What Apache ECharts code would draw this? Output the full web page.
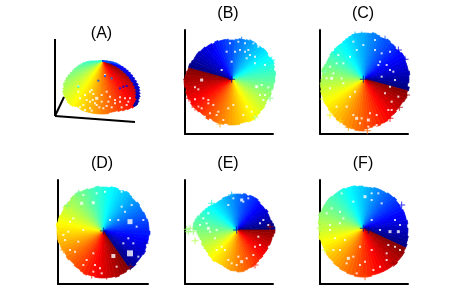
<!DOCTYPE html>
<html><head><meta charset="utf-8">
<style>html,body{margin:0;padding:0;background:#fff}#c{width:450px;height:300px}</style>
<script src="https://cdn.jsdelivr.net/npm/echarts@6/dist/echarts.min.js"></script></head>
<body><div id="c"></div>
<script>
// Outline radius of every sector, clockwise from north (A: 2.5 degrees, others: 5 degrees)
const radiiA=[0,0,0,0,0,0,0,0,0,0,0,0,0,0,0,0,0,0,0,0,0,0,0,0,0,0,0,0,0,0,0,0,0,0,0,0,
 6,9,12,15,17,19,22,25,28,31,34,37,40,43,46,48,50,52,53,55,56,56,56,55,55,54,54,53,53,52,52,52,52,53,53,53,
 53,53,53,53,53,53,53,53,53,53,52,52,53,54,54,54,53,52,52,51,50,48,46,45,42,40,37,34,31,29,26,24,21,19,16,13,
 0,0,0,0,0,0,0,0,0,0,0,0,0,0,0,0,0,0,0,0,0,0,0,0,0,0,0,0,0,0,0,0,0,0,0,0];
const rimA=[0,0,0,0,0,0,0,0,0,0,0,0,0,0,0,0,0,0,0,0,0,0,0,0,0,0,0,0,0,0,0,0,0,0,0,0,
 6,9,12,15,15,14,13,13,12,11,10,9,8,8,7,6,5,5,4,3,3,2,0,0,0,0,0,0,0,0,0,0,0,0,0,0,
 0,0,0,0,0,0,0,0,0,0,0,0,0,0,0,0,0,0,0,0,0,0,0,0,0,0,0,0,0,0,0,0,0,0,0,0,0,0,0,0,
 0,0,0,0,0,0,0,0,0,0,0,0,0,0,0,0,0,0,0,0,0,0,0,0,0,0,0,0,0,0,0,0,0,0];
const radiiB=[39,40,41,41,42,43,43,42,43,44,44,43,44,45,44,43,44,43,
 43,42,42,41,42,41,41,42,43,43,44,45,46,46,45,45,46,46,
 46,45,46,46,46,45,47,46,46,47,47,48,47,48,48,47,48,48,
 47,46,45,45,44,43,43,43,42,42,41,41,40,41,40,40,40,39];
const radiiC=[46,46,47,46,45,45,46,45,45,44,45,46,46,45,45,45,46,45,
 45,44,46,45,46,46,45,45,45,46,46,47,48,48,49,48,49,50,
 52,52,51,51,50,49,49,48,47,47,46,46,45,45,45,44,44,43,
 42,42,43,42,41,41,41,42,41,42,42,42,43,44,45,46,46,46];
const radiiD=[44,44,45,45,44,45,46,45,44,44,45,44,44,45,45,46,46,46,
 47,46,46,45,46,47,46,46,46,47,47,46,47,47,48,47,47,47,
 47,47,46,46,47,46,45,45,44,44,45,44,44,45,45,46,46,46,
 46,47,46,46,45,45,46,45,45,46,46,46,45,45,44,44,45,44];
const radiiE=[36,36,37,36,37,37,37,36,35,35,35,36,35,35,35,36,37,38,
 38,37,36,36,36,35,36,36,36,37,37,38,39,40,40,41,42,42,
 41,41,40,39,38,38,38,39,38,38,37,37,37,38,37,38,39,40,
 44,44,43,42,40,39,38,37,36,35,34,34,34,35,35,35,36,36];
const radiiF=[41,41,41,42,42,42,42,43,43,44,43,43,43,44,44,44,45,44,
 45,45,46,46,47,47,48,48,48,49,48,48,48,48,48,48,49,49,
 49,49,48,48,47,47,46,46,45,45,45,44,44,44,44,45,44,44,
 44,45,45,46,45,45,45,45,45,44,44,44,44,43,43,43,42,42];
// White gaps between the scattered points: x, y, optional size
const gapsA=[[195,165],[115,198],[155,210],[150,215],[200,215],[185,225],[210,230],[170,235,3],[150,245],[165,250],[185,245],[225,240],[255,235],[265,245],[150,265],[170,255],[190,265],[225,250],[260,255],[120,235],[135,270],[130,255],[115,215],[140,240],[158,240],[178,262],[205,245],[215,262],[240,245],[245,262],[270,235],[135,225],[160,222],[120,262],[200,258],[155,272],[240,232]];
const gapsB=[[80,240,3],[60,262],[70,268],[85,295],[100,300],[115,315],[70,320],[105,340],[130,335],[160,325],[175,315],[215,320],[240,350],[245,260,3],[255,285],[280,262],[265,300],[210,155],[215,175],[240,190],[190,125],[165,130],[170,185],[140,210],[250,140],[235,130],[100,310],[90,350],[125,345],[210,130],[180,155],[225,165],[195,150],[260,255],[270,285],[230,335],[145,360],[205,345],[60,298],[80,325],[270,195],[240,170],[220,150],[155,155]];
const gapsC=[[65,235,3],[50,235],[70,220],[95,235],[60,265],[80,190],[100,190],[120,170],[140,150],[160,135],[195,120],[205,195],[210,185],[240,210],[250,215],[215,230],[140,355,3],[155,355],[180,340],[175,360,3],[200,345],[235,330],[245,330],[225,280],[245,305],[110,320],[100,250],[135,275],[120,290],[80,320],[175,380],[60,200],[45,215],[85,165],[130,125],[230,195],[255,240],[215,160],[240,155],[195,150],[150,370],[130,345],[200,375],[240,260],[265,290]];
const gapsD=[[95,160,3],[130,158,3],[140,130],[215,125],[215,170],[240,215,5],[225,185],[240,310,6],[250,280],[265,320],[60,300],[75,305],[130,310],[110,330],[190,318,4],[135,345],[155,370],[200,350],[70,205],[55,245],[100,240],[45,270],[85,275],[180,210],[260,230],[205,210],[100,135],[165,125],[245,165],[280,210],[235,265],[60,215],[40,255],[150,355],[130,365],[220,280],[100,345]];
const gapsE=[[160,165],[200,150,3],[100,190],[85,205],[100,235,3],[105,245],[75,225],[125,240],[265,210],[255,220],[150,300],[125,300],[190,320],[215,325],[200,335,3],[240,350],[160,330],[240,290],[250,260],[175,145],[205,155],[170,340],[95,220],[120,265],[220,145],[280,225],[140,290],[185,345],[255,285],[235,315]];
const gapsF=[[165,140,3],[185,130],[185,150],[215,160],[95,130],[65,175],[60,225],[90,185],[90,220],[100,205],[60,240],[240,245,3],[265,245,3],[210,240],[185,210],[235,285],[230,310],[185,300],[150,290],[130,320],[115,325,3],[90,300],[150,345],[110,340],[230,330],[270,300],[70,300],[190,360],[130,155],[50,190],[75,265],[105,270],[255,210],[270,225],[205,130],[140,370],[165,335],[210,350],[255,290]];
// Isolated plus markers: x, y, colour value
const plusB=[[170,238,.02],[35,238,.98],[28,258,.95],[42,295,.88],[240,352,.55],[290,180,.38],[225,128,.28],[110,145,.08],[200,120,.25],[295,215,.42],[60,322,.85],[135,372,.72],[285,295,.5]];
const plusC=[[28,252,.52],[40,297,.6],[90,362,.66],[155,105,.3],[135,105,.31],[190,108,.25],[225,118,.2],[265,150,.1],[285,178,.08],[295,262,.02],[290,285,.98],[268,322,.95],[240,355,.9],[160,238,.02],[172,392,.78],[115,382,.72],[75,155,.38],[45,215,.47],[60,345,.63]];
const plusD=[[52,167,.5],[22,245,.62],[160,243,.02],[240,350,.98],[125,375,.85],[85,130,.47],[285,280,.07],[170,378,.92],[40,300,.72]];
const plusE=[[25,240,.52],[35,238,.52],[45,235,.52],[40,245,.52],[60,272,.55],[75,252,.52],[95,295,.58],[55,245,.52],[185,240,.02],[295,232,1],[285,230,.98],[110,160,.42],[170,135,.3],[240,345,.85]];
const plusF=[[28,208,.5],[30,235,.55],[160,235,.02],[175,240,.02],[295,272,.03],[250,340,.97],[165,380,.8],[100,125,.42],[45,300,.6],[275,165,.12]];
// Single blue dots inside the dome of panel A: x, y, colour value
const dotsA=[[175,182,.2],[215,175,.25],[240,205,.15],[260,198,.12],[115,200,.4],[195,168,.2],[250,200,.1]];
const titles=['(A)','(B)','(C)','(D)','(E)','(F)'];
const jet=['#00007f','#0000ff','#007fff','#00ffff','#7fff7f','#ffff00','#ff7f00','#ff0000','#7f0000'];

const panels=[
 {r:radiiA,step:2.5,g:gapsA,p:dotsA,dot:true,cx:102,cy:61,ox:40,oy:20,l:40,t:20,w:110,h:110,cut:388,span:278,dir:-1,clamp:true,axes:false,tx:101.5,ty:34},
 {r:radiiB,step:5,g:gapsB,p:plusB,cx:232,cy:79,ox:175,oy:0,l:185,t:30,w:88,h:104,cut:285,span:360,dir:1,axes:true,tx:228,ty:14},
 {r:radiiC,step:5,g:gapsC,p:plusC,cx:364,cy:79,ox:310,oy:0,l:320,t:30,w:88,h:104,cut:104,span:360,dir:-1,axes:true,tx:363,ty:14},
 {r:radiiD,step:5,g:gapsD,p:plusD,cx:103,cy:231,ox:50,oy:150,l:58,t:180,w:90,h:104,cut:146,span:360,dir:-1,axes:true,tx:102,ty:164},
 {r:radiiE,step:5,g:gapsE,p:plusE,cx:237,cy:230,ox:175,oy:150,l:185,t:180,w:88,h:104,cut:88,span:360,dir:-1,axes:true,tx:228,ty:164},
 {r:radiiF,step:5,g:gapsF,p:plusF,cx:363,cy:228,ox:310,oy:150,l:320,t:180,w:88,h:104,cut:115,span:360,dir:-1,axes:true,tx:363,ty:164}
];
const rMax=60;
const jetAt=t=>echarts.color.lerp(t,jet);
function phase(P,a){
  let x=P.dir*(a-P.cut)/P.span;
  if(P.clamp) return Math.max(0,Math.min(1,x));
  return ((x%1)+1)%1;
}
const opt={animation:false,backgroundColor:'#fff',title:[],grid:[],xAxis:[],yAxis:[],polar:[],angleAxis:[],radiusAxis:[],series:[],
 graphic:[[55,39,55,116],[55,116,135,122],[55,116,64,97]].map(s=>({type:'line',shape:{x1:s[0],y1:s[1],x2:s[2],y2:s[3]},style:{stroke:'#000',lineWidth:2},z:20}))};
panels.forEach((P,k)=>{
  opt.title.push({text:titles[k],left:P.tx,top:P.ty,textAlign:'center',textVerticalAlign:'middle',padding:0,
    textStyle:{fontFamily:'Liberation Sans',fontSize:16,fontWeight:'normal',color:'#000'}});
  opt.grid.push({left:P.l,top:P.t,width:P.w,height:P.h,containLabel:false,show:false});
  const ax=(min,max,extra)=>Object.assign({type:'value',min,max,gridIndex:k,scale:false,
    axisLine:{show:P.axes,onZero:false,lineStyle:{color:'#000',width:2}},axisTick:{show:false},axisLabel:{show:false},splitLine:{show:false}},extra);
  opt.xAxis.push(ax((P.l-P.ox)*3,(P.l+P.w-P.ox)*3,{position:'bottom'}));
  opt.yAxis.push(ax((P.t-P.oy)*3,(P.t+P.h-P.oy)*3,{position:'left',inverse:true}));
  opt.polar.push({center:[P.cx,P.cy],radius:rMax});
  opt.angleAxis.push({polarIndex:k,type:'category',data:P.r.map((_,i)=>i*P.step),startAngle:90,clockwise:true,boundaryGap:true,show:false});
  opt.radiusAxis.push({polarIndex:k,type:'value',min:0,max:rMax,show:false});
  const rim=k===0?rimA:null;
  const cell=(v,c)=>({value:v,itemStyle:{color:c,borderColor:c,borderWidth:v>0?.7:0,opacity:v>0?1:0}});
  opt.series.push({type:'bar',coordinateSystem:'polar',polarIndex:k,stack:'p'+k,barCategoryGap:'0%',silent:true,z:2,
    data:P.r.map((v,i)=>cell(rim?v-rim[i]:v,jetAt(phase(P,(i+.5)*P.step))))});
  if(rim){
    opt.series.push({type:'bar',coordinateSystem:'polar',polarIndex:k,stack:'p'+k,barCategoryGap:'0%',silent:true,z:3,
      data:rim.map((v,i)=>cell(v,jetAt(i<42?.2:Math.max(.02,.12-(i-42)*.006))))});
  }
  opt.series.push({type:'scatter',xAxisIndex:k,yAxisIndex:k,symbol:'rect',symbolSize:v=>v[2]||2,silent:true,z:5,itemStyle:{color:'#fff'},data:P.g});
  opt.series.push({type:'scatter',xAxisIndex:k,yAxisIndex:k,symbol:P.dot?'rect':'path://M3 0h1v7h-1zM0 3h7v1h-7z',symbolSize:P.dot?2:7,silent:true,z:6,
    itemStyle:{color:p=>jetAt(p.value[2])},data:P.p});
});
echarts.init(document.getElementById('c'),null,{renderer:'canvas'}).setOption(opt);
</script></body></html>
